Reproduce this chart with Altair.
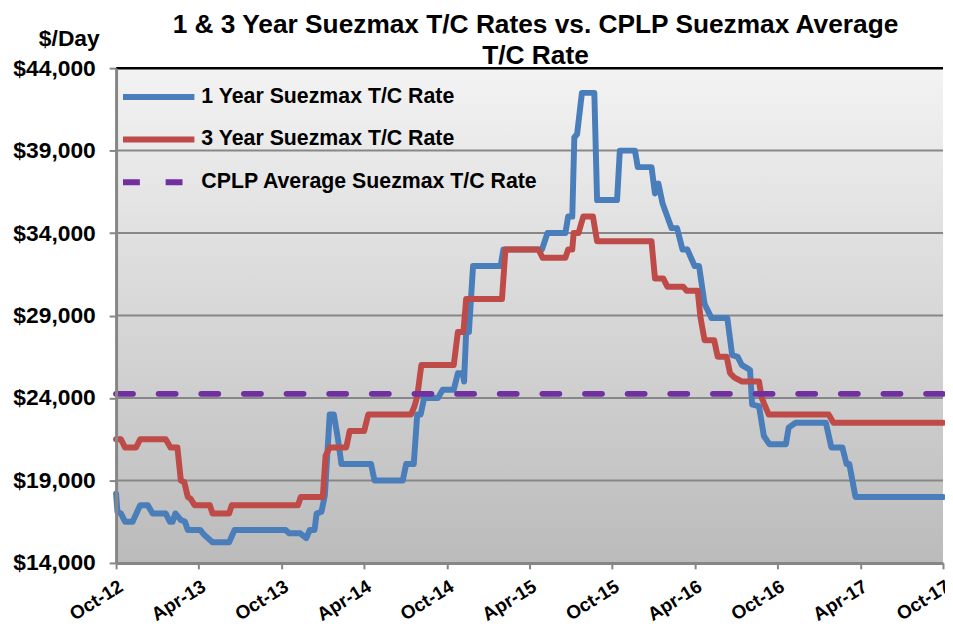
import json
import altair as alt
import pandas as pd

# ---------------- data ----------------
series_names = ["1 Year Suezmax T/C Rate", "3 Year Suezmax T/C Rate", "CPLP Average Suezmax T/C Rate"]
series_colors = ["#4A7EBB", "#BE4B48", "#7030A0"]

tick_months = [0, 6, 12, 18, 24, 30, 36, 42, 48, 54, 60]
tick_labels = ["Oct-12", "Apr-13", "Oct-13", "Apr-14", "Oct-14", "Apr-15",
               "Oct-15", "Apr-16", "Oct-16", "Apr-17", "Oct-17"]
y_ticks = [14000, 19000, 24000, 29000, 34000, 39000, 44000]

# months since Oct-2012
one_year_month = [0, 0.1, 0.35, 0.65, 1.2, 1.75, 2.3, 2.65, 3.6, 3.9, 4.1, 4.3, 4.7, 5.0, 5.2,
                  6.1, 6.4, 7.0, 8.2, 8.6, 12.3, 12.55, 13.35, 13.8, 14.05, 14.4, 14.55, 14.9,
                  15.15, 15.5, 15.8, 16.1, 16.35, 18.5, 18.75, 20.8, 21.05, 21.6, 21.85, 22.1,
                  22.35, 23.35, 23.7, 24.5, 24.8, 25.15, 25.25, 25.4, 25.6, 25.9, 27.9, 28.1,
                  30.9, 31.3, 32.6, 32.8, 33.1, 33.25, 33.45, 33.8, 34.7, 34.9, 36.35, 36.55,
                  37.65, 37.85, 38.85, 39.1, 39.35, 39.65, 40.3, 40.7, 41.1, 41.45, 41.98, 42.3,
                  42.7, 43.2, 44.35, 44.7, 45.1, 45.4, 46.0, 46.15, 46.65, 47.0, 47.4, 48.6,
                  48.8, 49.3, 51.5, 51.9, 52.7, 53.0, 53.2, 53.65, 60]
one_year_rate = [18200, 17100, 17000, 16500, 16500, 17500, 17500, 17000, 17000, 16500, 16500,
                 17000, 16600, 16500, 16000, 16000, 15700, 15250, 15250, 16000, 16000, 15800,
                 15800, 15500, 16000, 16000, 17000, 17100, 18100, 23000, 23000, 21500, 20000,
                 20000, 19000, 19000, 20000, 20000, 23000, 23000, 24000, 24000, 24500, 24500,
                 25500, 25500, 25000, 28000, 28000, 32000, 32000, 33000, 33000, 34000, 34000,
                 35000, 35000, 39800, 40000, 42500, 42500, 36000, 36000, 39000, 39000, 38000,
                 38000, 36400, 37000, 35800, 34300, 34300, 33000, 33000, 32000, 32000, 29700,
                 28850, 28850, 26600, 26500, 26000, 25700, 23600, 23500, 21700, 21200, 21200,
                 22200, 22500, 22500, 21000, 21000, 20000, 20000, 18000, 18000]

three_year_month = [0, 0.35, 0.65, 1.45, 1.75, 3.6, 3.95, 4.45, 4.7, 4.95, 5.2, 5.4, 5.7, 6.8,
                    7.0, 8.2, 8.4, 13.2, 13.4, 15.0, 15.2, 15.5, 16.7, 16.95, 18.0, 18.3, 21.4,
                    21.65, 21.85, 22.15, 24.5, 24.8, 25.2, 25.4, 28.0, 28.25, 30.65, 30.95, 32.6,
                    32.8, 33.1, 33.2, 33.55, 33.9, 34.6, 34.9, 38.85, 39.1, 39.7, 40.0, 41.15,
                    41.4, 42.2, 42.4, 42.7, 43.4, 43.65, 44.3, 44.55, 44.85, 45.4, 46.65, 46.85,
                    47.35, 51.7, 52.05, 60]
three_year_rate = [21500, 21500, 21000, 21000, 21500, 21500, 21000, 21000, 19000, 18900, 18000,
                   17900, 17500, 17500, 17000, 17000, 17500, 17500, 18000, 18000, 20500, 21000,
                   21000, 22000, 22000, 23000, 23000, 23500, 24100, 26000, 26000, 28000, 28000,
                   30000, 30000, 33000, 33000, 32500, 32500, 33000, 33000, 34000, 34000, 35000,
                   35000, 33500, 33500, 31250, 31250, 30750, 30750, 30500, 30500, 28900, 27500,
                   27500, 26500, 26500, 25500, 25250, 25000, 25000, 24000, 23000, 23000, 22500,
                   22500]

cplp_month = [0, 60]
cplp_rate = [24250, 24250]

# ---------------- tables ----------------
frames = []
for name, ms, vs in [(series_names[0], one_year_month, one_year_rate),
                     (series_names[1], three_year_month, three_year_rate),
                     (series_names[2], cplp_month, cplp_rate)]:
    frames.append(pd.DataFrame({"month": ms, "value": vs, "series": name}))
df = pd.concat(frames, ignore_index=True)

grid_df = pd.DataFrame({"v": y_ticks[1:-1]})
frame_df = pd.DataFrame({"x0": [tick_months[0]], "x1": [tick_months[-1]],
                         "y0": [y_ticks[0]], "y1": [y_ticks[-1]]})

FONT = "Liberation Sans"
W, H = 834, 499

label_expr = json.dumps(tick_labels) + "[round(datum.value / 6)]"

x_scale = alt.Scale(domain=[tick_months[0], tick_months[-1]], nice=False, zero=False)
y_scale = alt.Scale(domain=[y_ticks[0], y_ticks[-1]], nice=False, zero=False)

x_axis = alt.Axis(values=tick_months, labelExpr=label_expr, title=None, grid=False,
                  labelAngle=-32, labelAlign="right", labelBaseline="top",
                  labelFont=FONT, labelFontSize=19, labelFontWeight="bold",
                  labelColor="black", labelPadding=8, tickSize=6,
                  tickColor="#868686", tickWidth=2, domainColor="#868686",
                  domainWidth=3, zindex=1, labelOverlap=False)
y_axis = alt.Axis(values=y_ticks, format="$,.0f", title="$/Day", grid=False,
                  labelFont=FONT, labelFontSize=23, labelFontWeight="bold",
                  labelColor="black", labelPadding=14, tickSize=7,
                  tickColor="#868686", tickWidth=2, domainColor="#868686",
                  domainWidth=3, zindex=1, labelOverlap=False,
                  titleAngle=0, titleAlign="right", titleBaseline="alphabetic",
                  titleX=-17, titleY=-23, titleFont=FONT, titleFontSize=23,
                  titleFontWeight="bold", titleColor="black")

gradient = alt.LinearGradient(
    gradient="linear",
    stops=[alt.GradientStop(color="#F3F3F3", offset=0),
           alt.GradientStop(color="#BBBBBB", offset=1)],
    x1=0, x2=0, y1=0, y2=1,
)

bg = alt.Chart(frame_df).mark_rect(fill=gradient).encode(
    x=alt.X("x0:Q", scale=x_scale, axis=x_axis), x2="x1:Q",
    y=alt.Y("y0:Q", scale=y_scale, axis=y_axis), y2="y1:Q",
)

grid = alt.Chart(grid_df).mark_rule(color="#878787", strokeWidth=2).encode(
    y=alt.Y("v:Q", scale=y_scale, axis=y_axis)
)

top_border = alt.Chart(frame_df).mark_rule(color="black", strokeWidth=2.5).encode(
    y=alt.Y("y1:Q", scale=y_scale, axis=y_axis)
)

legend = alt.Legend(
    orient="none", legendX=4, legendY=19, title=None, padding=0,
    symbolType="stroke", symbolSize=5184, symbolStrokeWidth=6, clipHeight=20,
    rowPadding=21, labelFontSize=21.5, labelFont=FONT, labelFontWeight="bold",
    labelColor="black", labelOffset=4, labelLimit=600,
)

lines = alt.Chart(df).mark_line(strokeWidth=6, strokeJoin="round", strokeCap="round").encode(
    x=alt.X("month:Q", scale=x_scale, axis=x_axis),
    y=alt.Y("value:Q", scale=y_scale, axis=y_axis),
    color=alt.Color("series:N", scale=alt.Scale(domain=series_names, range=series_colors),
                    legend=legend),
    strokeDash=alt.StrokeDash("series:N",
                              scale=alt.Scale(domain=series_names,
                                              range=[[1, 0], [1, 0], [17, 26]]),
                              legend=legend),
)

chart = alt.layer(bg, grid, top_border, lines).properties(
    width=W, height=H,
    padding={"left": 109, "top": 58, "right": 2, "bottom": 66},
    autosize=alt.AutoSizeParams(type="none"),
    background="white",
    title=alt.TitleParams(
        text=["1 & 3 Year Suezmax T/C Rates vs. CPLP Suezmax Average", "T/C Rate"],
        font=FONT, fontSize=26.5, fontWeight="bold", color="black",
        anchor="middle", frame="group", lineHeight=31, offset=-1, dx=6, dy=41,
    ),
).configure_view(stroke=None)

chart.save("out.html", embed_options={"renderer": "svg", "actions": False})
